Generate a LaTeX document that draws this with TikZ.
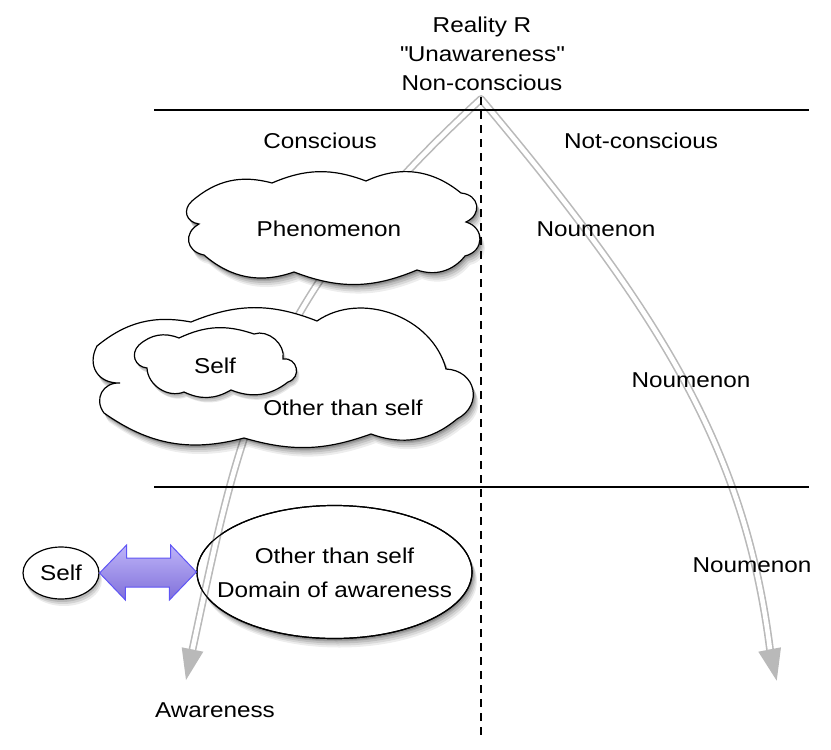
\documentclass[tikz,border=0pt]{standalone}
\usepackage{fontspec}
\setmainfont{Liberation Sans}[FakeStretch=1.13]
\usetikzlibrary{shapes.geometric,calc}
\definecolor{arrowgray}{RGB}{185,185,185}
\definecolor{purpTop}{RGB}{190,180,248}
\definecolor{purpBot}{RGB}{128,112,218}
\definecolor{purpEdge}{RGB}{95,85,245}
\begin{document}
\begin{tikzpicture}[x=1pt,y=-1pt,
  txt/.style={font=\fontsize{21.5}{29}\selectfont, inner sep=0pt, align=center},
  txtwide/.style={font=\fontsize{21.5}{34}\selectfont, inner sep=0pt, align=center},
  ovalbox/.style={ellipse, draw, fill=white, line width=1.2pt, inner sep=0pt},
  cloudline/.style={draw, fill=white, line width=1.2pt},
  rulerline/.style={line width=1.3pt},
  grayarrow/.style={draw=arrowgray, double=white, line width=1.6pt, double distance=4.6pt, line join=round},
  grayhead/.style={fill=arrowgray}
]
\useasboundingbox (0,0) rectangle (831,750);

\def\phenpath{(192,201) to[bend left=28] (272,183) to[bend left=22] (366,181)
  to[bend left=32] (461,193) to[bend left=75,looseness=1.6] (466,222)
  to[bend left=75,looseness=1.5] (465,256) to[bend left=35] (417,270)
  to[bend left=22] (294,272) to[bend left=30] (204,255)
  to[bend left=70,looseness=1.5] (199,224) to[bend left=65,looseness=1.4] (192,201) -- cycle}
\def\otherpath{(97,346) to[bend left=25] (191,322) to[bend left=22] (317,321)
  to[bend left=55] (446,369) to[bend left=75,looseness=1.5] (457,419)
  to[bend left=30] (371,434) to[bend left=18] (244,438) to[bend left=25] (104,413)
  to[bend left=65,looseness=1.3] (120,383) to[bend left=60,looseness=1.3] (97,346) -- cycle}
\def\selfpath{(139,345) to[bend left=32] (179,338) to[bend left=22] (254,334)
  to[bend left=60] (283,359) to[bend left=85,looseness=1.6] (288,382)
  to[bend left=30] (231,390) to[bend left=28] (184,392) to[bend left=55] (147,368)
  to[bend left=65,looseness=1.3] (139,345) -- cycle}

% ---- big ellipse (under the gray arrow)
\coordinate (domc) at (334.5,572);
\foreach \dx/\dy/\op in {5/9/.07,4/7/.09,3/5/.11,2/3/.13,1/2/.13}
  {\fill[black,opacity=\op] ($(domc)+(\dx,\dy)$) ellipse [x radius=137.5, y radius=66.5];}
\node[ovalbox, minimum width=275pt, minimum height=133pt] (dom) at (domc) {};

% ---- gray double arrows
\coordinate (apex) at (481,99);
\coordinate (Lbase) at (192.5,649.5);
\coordinate (Rbase) at (770,649.5);
\draw[grayarrow] (Lbase) .. controls (240.5,424.5) and (262,300) .. (apex)
  .. controls (665,318) and (745,452) .. (Rbase);
\fill[grayhead] (186,680) -- (181.7,647.3) -- (203.3,651.7) -- cycle;
\fill[grayhead] (776.7,680.7) -- (758.3,651.7) -- (781,647.3) -- cycle;
\draw[line width=1.2pt] (domc) ellipse [x radius=137.5, y radius=66.5];

% ---- frame lines
\coordinate (t1) at (154,110); \coordinate (t2) at (809,110);
\coordinate (b1) at (154,487); \coordinate (b2) at (809,487);
\coordinate (v1) at (481,97);  \coordinate (v2) at (481,740);
\draw[rulerline] (t1) -- (t2);
\draw[rulerline] (b1) -- (b2);
\draw[line width=1.3pt, dash pattern=on 8pt off 6pt] (v1) -- (v2);

% ---- texts
\node[txt] (reality) at (482,54) {Reality R\\\textquotedbl Unawareness\textquotedbl\\Non-conscious};
\node[txt] (consc) at (320,141) {Conscious};
\node[txt] (notconsc) at (641,141) {Not-conscious};
\node[txt] (noum1) at (596,229) {Noumenon};
\node[txt] (noum2) at (691,380) {Noumenon};
\node[txt] (noum3) at (752,565) {Noumenon};
\node[txt] (aware) at (215,710) {Awareness};
\node[txtwide] (domtxt) at (334.5,573) {Other than self\\Domain of awareness};

% ---- clouds
\foreach \dx/\dy/\op in {5/9/.07,4/7/.09,3/5/.11,2/3/.13,1/2/.13}
  {\fill[black,opacity=\op,shift={(\dx,\dy)}] \phenpath;}
\draw[cloudline] \phenpath;
\node[txt] (phen) at (329,229) {Phenomenon};

\foreach \dx/\dy/\op in {5/9/.07,4/7/.09,3/5/.11,2/3/.13,1/2/.13}
  {\fill[black,opacity=\op,shift={(\dx,\dy)}] \otherpath;}
\draw[cloudline] \otherpath;
\node[txt] (othertxt) at (343,408) {Other than self};

\foreach \dx/\dy/\op in {3/5/.09,2/4/.11,1/2/.13}
  {\fill[black,opacity=\op,shift={(\dx,\dy)}] \selfpath;}
\draw[cloudline] \selfpath;
\node[txt] (selfc) at (215,366) {Self};

% ---- self ellipse and purple double arrow
\coordinate (selfcen) at (61,573);
\foreach \dx/\dy/\op in {3/7/.08,2/5/.1,1/3/.12}
  {\fill[black,opacity=\op] ($(selfcen)+(\dx,\dy)$) ellipse [x radius=38, y radius=26];}
\node[ovalbox, minimum width=76pt, minimum height=52pt] (self) at (selfcen) {};
\node[txt] (selftxt) at (selfcen) {Self};
\shade[top color=purpTop, bottom color=purpBot, draw=purpEdge, line width=1pt, line join=miter]
  (self.east) -- ++(27,-28) -- ++(0,13) -- ++(44,0) -- ++(0,-13) -- (dom.west)
  -- ++(-27,28) -- ++(0,-13) -- ++(-44,0) -- ++(0,13) -- cycle;
\end{tikzpicture}
\end{document}
